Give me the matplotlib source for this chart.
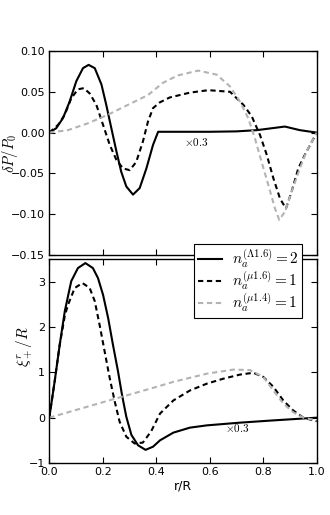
import matplotlib
matplotlib.use("Agg")
import matplotlib.pyplot as plt

plt.rcParams['mathtext.fontset'] = 'cm'
plt.rcParams['font.family'] = 'DejaVu Sans'
plt.rcParams['lines.scale_dashes'] = False

# ---- top panel: delta P / P0 ----
top_solid_x = [0.0, 0.026, 0.051, 0.076, 0.101, 0.126, 0.147, 0.170, 0.195, 0.213, 0.232,
               0.251, 0.269, 0.288, 0.313, 0.338, 0.363, 0.388, 0.407, 0.5, 0.6, 0.7,
               0.776, 0.881, 0.937, 1.0]
top_solid_y = [0.0, 0.0054, 0.0177, 0.038, 0.063, 0.079, 0.083, 0.079, 0.059, 0.034, 0.0054,
               -0.023, -0.048, -0.066, -0.076, -0.068, -0.044, -0.015, 0.001, 0.001, 0.001, 0.0015,
               0.003, 0.0074, 0.003, 0.0]

top_dash_x = [0.0, 0.033, 0.058, 0.082, 0.107, 0.129, 0.151, 0.176, 0.201, 0.226, 0.251,
              0.276, 0.301, 0.325, 0.350, 0.369, 0.388, 0.413, 0.45, 0.526, 0.595, 0.676,
              0.726, 0.757, 0.788, 0.813, 0.838, 0.863, 0.885, 0.906, 0.931, 0.956, 1.0]
top_dash_y = [0.0, 0.0095, 0.022, 0.042, 0.053, 0.0545, 0.048, 0.034, 0.0095, -0.015, -0.0335,
              -0.044, -0.046, -0.036, -0.011, 0.0135, 0.030, 0.037, 0.043, 0.049, 0.052, 0.050,
              0.034, 0.020, -0.003, -0.027, -0.056, -0.081, -0.093, -0.0725, -0.044, -0.027, 0.0]

top_gray_x = [0.0, 0.07, 0.145, 0.22, 0.294, 0.369, 0.425, 0.48, 0.557, 0.626, 0.676,
              0.713, 0.744, 0.769, 0.794, 0.819, 0.844, 0.860, 0.881, 0.906, 0.937, 0.962, 1.0]
top_gray_y = [0.0, 0.003, 0.0115, 0.022, 0.034, 0.046, 0.061, 0.070, 0.076, 0.071, 0.0565,
              0.038, 0.0177, -0.007, -0.036, -0.064, -0.093, -0.107, -0.097, -0.0725, -0.044, -0.023, 0.0]

# ---- bottom panel: xi_+^r / R ----
bot_solid_x = [0.0, 0.020, 0.039, 0.058, 0.082, 0.107, 0.135, 0.163, 0.182, 0.201, 0.220,
               0.238, 0.257, 0.272, 0.288, 0.307, 0.332, 0.360, 0.388, 0.414, 0.464,
               0.526, 0.589, 0.713, 0.838, 1.0]
bot_solid_y = [0.0, 0.80, 1.61, 2.35, 3.01, 3.30, 3.41, 3.30, 3.08, 2.71, 2.20,
               1.61, 1.02, 0.50, 0.02, -0.38, -0.61, -0.71, -0.64, -0.50, -0.33,
               -0.22, -0.17, -0.11, -0.06, 0.0]

bot_dash_x = [0.0, 0.020, 0.039, 0.058, 0.070, 0.095, 0.124, 0.151, 0.170, 0.188, 0.207,
              0.226, 0.245, 0.263, 0.288, 0.319, 0.350, 0.381, 0.414, 0.464, 0.526, 0.589,
              0.651, 0.713, 0.763, 0.80, 0.838, 0.875, 0.912, 0.95, 1.0]
bot_dash_y = [0.0, 0.80, 1.61, 2.25, 2.49, 2.86, 2.97, 2.86, 2.57, 2.05, 1.46,
              0.87, 0.35, -0.09, -0.42, -0.57, -0.55, -0.30, 0.09, 0.38, 0.60, 0.75,
              0.86, 0.95, 0.99, 0.90, 0.68, 0.38, 0.16, 0.0, -0.08]

bot_gray_x = [0.0, 0.2, 0.407, 0.464, 0.589, 0.688, 0.75, 0.80, 0.838, 0.875, 0.912, 0.95, 1.0]
bot_gray_y = [0.0, 0.34, 0.69, 0.79, 0.97, 1.06, 1.05, 0.90, 0.60, 0.31, 0.12, 0.0, -0.06]

labels = [r'$n_a^{(\Lambda 1.6)}=2$', r'$n_a^{(\mu 1.6)}=1$', r'$n_a^{(\mu 1.4)}=1$']
xticks = [0.0, 0.2, 0.4, 0.6, 0.8, 1.0]
top_yticks = [-0.15, -0.10, -0.05, 0.00, 0.05, 0.10]
bot_yticks = [-1, 0, 1, 2, 3]

gray = '#b3b3b3'
dash = (3.8, 2.6)

fig = plt.figure(figsize=(3.3, 5.15), dpi=100)
ax1 = fig.add_axes([49.3/330, 260/515, 267.4/330, 204/515])
ax2 = fig.add_axes([49.3/330, 52/515, 267.4/330, 204/515])

ax1.plot(top_solid_x, top_solid_y, color='black', lw=1.5)
ax1.plot(top_dash_x, top_dash_y, color='black', lw=1.5, dashes=dash)
ax1.plot(top_gray_x, top_gray_y, color=gray, lw=1.5, dashes=dash)
ax1.set_xlim(0, 1)
ax1.set_ylim(-0.15, 0.10)
ax1.set_yticks(top_yticks)
ax1.set_yticklabels(['%.2f' % v if v >= 0 else '\u2212%.2f' % -v for v in top_yticks])
ax1.set_xticks(xticks)
ax1.set_xticklabels([])
ax1.set_ylabel(r'$\delta P/P_0$', fontsize=10.5)
ax1.yaxis.set_label_coords(-0.11, 0.5)
ax1.text(0.55, -0.011, r'$\times 0.3$', fontsize=8, ha='center', va='center')

l1, = ax2.plot(bot_solid_x, bot_solid_y, color='black', lw=1.5)
l2, = ax2.plot(bot_dash_x, bot_dash_y, color='black', lw=1.5, dashes=dash)
l3, = ax2.plot(bot_gray_x, bot_gray_y, color=gray, lw=1.5, dashes=dash)
ax2.set_xlim(0, 1)
ax2.set_ylim(-1, 3.5)
ax2.set_yticks(bot_yticks)
ax2.set_yticklabels(['\u22121' if v == -1 else str(v) for v in bot_yticks])
ax2.set_xticks(xticks)
ax2.set_xticklabels(['%.1f' % v for v in xticks])
ax2.set_xlabel('r/R', fontsize=9, labelpad=2)
ax2.set_ylabel(r'$\xi_+^r/R$', fontsize=11)
ax2.yaxis.set_label_coords(-0.055, 0.57)
ax2.text(0.703, -0.23, r'$\times 0.3$', fontsize=8, ha='center', va='center')

for ax in (ax1, ax2):
    ax.tick_params(direction='in', top=True, right=True, length=4, width=0.8, labelsize=8, pad=3)
    for s in ax.spines.values():
        s.set_linewidth(1.0)

leg = ax2.legend([l1, l2, l3], labels, loc='upper right', bbox_to_anchor=(0.945, 1.074),
                 fontsize=11, handlelength=1.6, handletextpad=0.6, borderpad=0.25,
                 labelspacing=0.0, fancybox=False, framealpha=1, edgecolor='black',
                 borderaxespad=0)
leg.get_frame().set_linewidth(0.8)
leg.set_zorder(10)

fig.savefig('out.png', dpi=100)
